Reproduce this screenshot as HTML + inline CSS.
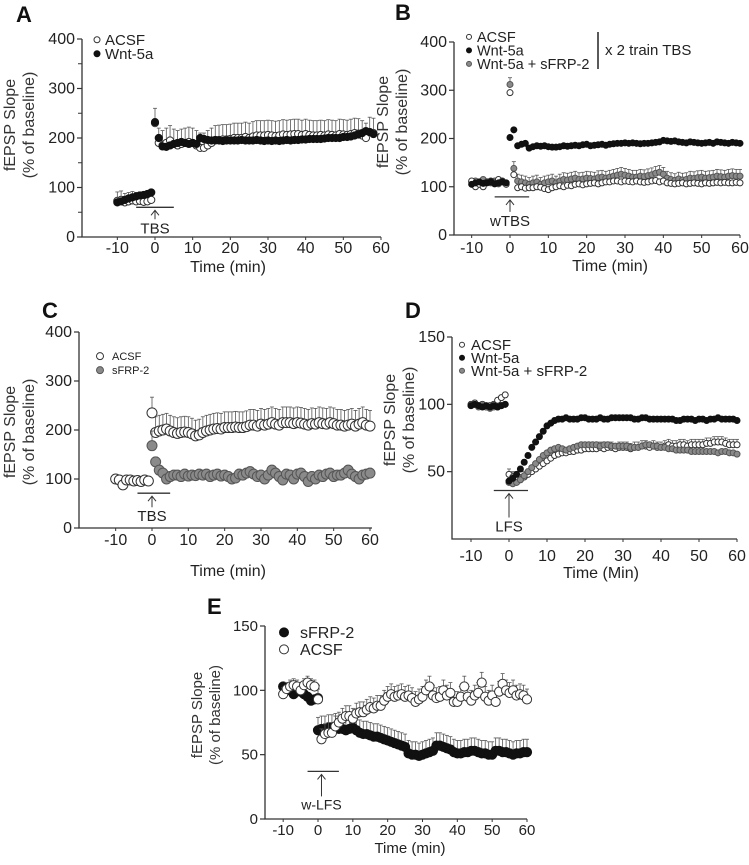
<!DOCTYPE html>
<html><head><meta charset="utf-8">
<style>
html,body{margin:0;padding:0;background:#fff;}
svg{display:block;font-family:"Liberation Sans",Arial,sans-serif;}
</style></head>
<body>
<svg id="fig" width="749" height="865" viewBox="0 0 749 865"></svg>
<script>
// ---------- DATA ----------
const aPreTimes=[-10,-9,-8,-7,-6,-5,-4,-3,-2,-1];
const aAcsfPre=[73,75,70,72,74,72,73,71,72,75];
const aAcsfPost=[230,190,185,190,195,188,185,188,190,192,190,185,180,180,185,190,195,196,197,197,198,200,200,200,202,200,203,205,205,205,206,205,204,205,207,206,207,208,208,206,208,206,205,205,206,205,207,206,205,208,207,206,208,210,209,205,200,212,210];
const aWntPre=[70,72,75,78,80,82,84,85,87,90];
const aWntPost=[232,200,183,182,185,188,190,192,190,188,190,188,200,198,196,195,196,195,194,195,195,195,195,196,195,195,195,196,195,194,195,194,195,194,195,196,195,196,196,197,197,198,198,198,198,199,200,200,200,200,202,202,203,205,207,210,214,212,208];

const bWntPre=[105,108,110,107,108,110,106,108,110,108];
const bWntPost=[202,218,185,188,190,180,183,185,184,185,183,182,182,183,185,184,185,186,185,187,188,185,186,187,188,186,188,189,190,190,191,190,191,190,189,190,190,191,192,193,196,195,194,195,193,192,191,193,192,191,190,191,192,190,193,192,191,190,192,191,190];
const bAcsfPre=[112,100,105,100,110,112,108,115,112,105];
const bAcsfPost=[295,125,98,100,97,98,98,100,99,96,94,98,100,102,100,103,102,105,106,104,106,107,108,106,108,110,110,112,112,110,112,111,110,112,110,109,110,112,113,110,112,108,107,106,107,108,106,107,108,107,106,108,107,108,109,108,109,108,108,109,108];
const bGrayPre=[110,112,108,115,110,108,112,106,110,108];
const bGrayPost=[312,138,112,110,108,105,108,110,105,108,110,112,108,112,115,114,116,118,115,116,118,117,116,119,120,118,120,122,124,126,124,122,120,120,122,121,123,125,128,130,126,118,115,113,116,114,115,118,117,119,120,118,119,120,122,121,120,122,123,122,122];

const cAcsfPre=[100,98,88,98,98,96,97,95,98,96];
const cAcsfPost=[235,195,198,200,202,198,195,193,195,196,195,192,188,190,195,198,200,202,203,202,205,205,205,206,205,205,207,210,210,208,212,210,212,215,212,210,215,215,215,213,215,214,212,210,213,212,215,213,212,215,213,210,210,208,210,212,208,212,215,210,208];
const cSfrpPost=[168,135,118,112,100,105,108,108,105,110,106,108,107,110,108,110,105,108,110,106,108,105,100,102,110,108,112,115,110,105,108,100,108,118,112,105,98,110,108,100,110,112,105,95,105,100,108,105,110,112,105,108,108,112,118,110,105,100,108,110,112];

const dGrayPre=[99,100,98,99,98,97,98,98,99,100];
const dAcsfPre=[100,101,99,100,98,99,100,103,105,107];
const dWntPre=[99,100,99,98,99,98,99,98,99,100];
const dWntPost=[43,45,48,52,57,62,68,72,76,80,84,86,88,89,89,90,89,89,89,90,90,89,89,89,90,89,89,90,90,90,90,90,90,89,89,90,90,89,89,89,89,89,89,89,88,88,89,89,89,88,89,89,88,89,89,90,89,89,89,89,88];
const dAcsfPost=[48,46,45,44,46,48,50,52,54,56,58,60,62,63,64,64,65,65,66,66,67,67,67,67,68,67,68,68,67,68,68,68,67,68,68,69,69,68,69,68,68,69,70,69,69,70,70,69,70,70,70,70,71,71,72,72,72,71,70,70,70];
const dGrayPost=[42,41,42,44,47,50,53,56,59,62,64,66,67,68,67,66,67,68,69,70,70,70,70,70,69,70,70,69,69,69,69,69,68,68,68,69,70,70,69,69,68,68,67,67,66,66,66,66,65,65,65,65,65,65,65,64,65,65,64,64,63];

const ePreTimes=[-10,-9,-8,-7,-6,-5,-4,-3,-2,-1,0];
const eSfrpPre=[103,101,100,97,100,99,97,95,92,93,94];
const eAcsfPre=[97,101,103,104,103,100,104,106,104,103,93];
const eSfrpPost=[69,70,70,71,71,72,70,70,69,70,71,69,67,66,66,65,64,64,63,62,61,60,59,58,57,56,51,50,50,49,50,51,52,53,57,57,56,55,54,52,51,51,52,52,53,53,52,51,51,50,50,53,53,52,52,51,50,51,51,52,52];
const eAcsfPost=[62,66,67,67,72,75,78,80,80,78,82,83,83,85,87,86,88,88,92,95,97,95,96,97,95,96,94,91,93,95,100,103,96,94,95,100,96,98,91,91,95,103,95,92,96,98,106,95,92,96,91,99,105,100,98,100,96,97,96,93];

// ---------- DRAWING ----------
const NS="http://www.w3.org/2000/svg";
const svg=document.getElementById('fig');
function mk(tag,attrs,parent){const e=document.createElementNS(NS,tag);for(const k in attrs)e.setAttribute(k,attrs[k]);(parent||svg).appendChild(e);return e;}
function txt(s,x,y,size,anchor,parent,extra){const t=mk('text',Object.assign({x:x,y:y,'font-size':size,'text-anchor':anchor||'start',fill:'#222'},extra||{}),parent);t.textContent=s;return t;}
function range(a,b){const r=[];for(let i=a;i<=b;i++)r.push(i);return r;}

function panel(c){
  const g=mk('g',{});
  
  
  const X=v=>c.x0+(v-c.xmin)/(c.xmax-c.xmin)*(c.x1-c.x0);
  const Y=v=>c.y0-(v-c.ymin)/(c.ymax-c.ymin)*(c.y0-c.y1);
  const ax=mk('path',{d:`M${c.ax} ${c.y1} V${c.y0} H${c.axEnd}`,stroke:'#333','stroke-width':1.3,fill:'none'},g);
  
  
  c.yticks.forEach(v=>{
    mk('line',{x1:c.ax-5,x2:c.ax,y1:Y(v),y2:Y(v),stroke:'#333','stroke-width':1.2},g);
    const t=txt(String(v),c.ax-7,Y(v)+5,c.tf,'end',g);
    
    
  });
  (c.yminor||[]).forEach(v=>mk('line',{x1:c.ax-4,x2:c.ax,y1:Y(v),y2:Y(v),stroke:'#333','stroke-width':1},g));
  c.xticks.forEach(v=>{
    mk('line',{x1:X(v),x2:X(v),y1:c.y0,y2:c.y0+3,stroke:'#333','stroke-width':1},g);
    const t=txt(String(v),X(v),c.y0+c.xto,c.tf,'middle',g);
    
    
  });
  const xt=txt(c.xlabel,c.xlx,c.xly,c.tf,'middle',g);
  
  
  const yt=mk('text',{transform:`translate(${c.ylx},${c.yly}) rotate(-90)`,'font-size':c.tf,'text-anchor':'middle',fill:'#333'},g);
  
  
  const t1=mk('tspan',{x:0,dy:0},yt);t1.textContent='fEPSP Slope';
  const t2=mk('tspan',{x:0,dy:c.tf+3},yt);t2.textContent='(% of baseline)';
  const lt=txt(c.letter,c.lx,c.ly,22,'start',g,{'font-weight':'bold',fill:'#111'});
  
  
  const s=c.stim;
  mk('line',{x1:X(s.from),x2:X(s.to),y1:Y(s.y),y2:Y(s.y),stroke:'#333','stroke-width':1.3},g);
  mk('line',{x1:X(s.at),x2:X(s.at),y1:Y(s.y)+3,y2:Y(s.y)+s.len,stroke:'#333','stroke-width':1},g);
  mk('path',{d:`M${X(s.at)-4} ${Y(s.y)+8} L${X(s.at)} ${Y(s.y)+3} L${X(s.at)+4} ${Y(s.y)+8}`,stroke:'#333','stroke-width':1,fill:'none'},g);
  const st=txt(s.label,X(s.at),Y(s.y)+s.len+c.tf-2,c.tf-1,'middle',g);
  
  
  c.series.forEach(se=>{
    const sg=mk('g',{},g);
    
    
    se.vals.forEach((v,i)=>{
      const t=se.times[i];
      let e=t<0?se.preErr:se.err;
      if(t>=0&&i===se.bigIdx)e*=se.bigMul;
      if(e){
        mk('line',{x1:X(t),x2:X(t),y1:Y(v),y2:Y(v+e),stroke:'#555','stroke-width':0.8},sg);
        mk('line',{x1:X(t)-2,x2:X(t)+2,y1:Y(v+e),y2:Y(v+e),stroke:'#555','stroke-width':0.8},sg);
      }
    });
    se.vals.forEach((v,i)=>{
      const m=mk('circle',{cx:X(se.times[i]),cy:Y(v),r:c.r,fill:se.fill,stroke:se.stroke,'stroke-width':1},sg);
      
      
    });
  });
  c.legend.forEach((L,i)=>{
    const lg=mk('g',{},g);
    
    
    const y=c.legY+i*c.legDy;
    mk('circle',{cx:c.legX,cy:y-c.lf*0.35,r:c.legR,fill:L.fill,stroke:L.stroke,'stroke-width':1},lg);
    txt(L.label,c.legX+c.legGap,y,c.lf,'start',lg);
  });
}
const OPEN={fill:'#fff',stroke:'#333'}, FILL={fill:'#111',stroke:'#111'}, GRAY={fill:'#8a8a8a',stroke:'#555'};
function S(name,times,vals,st,err,preErr,bigIdx,bigMul){return Object.assign({name,times,vals,err,preErr,bigIdx:bigIdx==null?-1:bigIdx,bigMul:bigMul||1},st);}

const aPost=range(0,58), p60=range(0,60);
panel({name:'panel-a',letter:'A',lx:16,ly:22,x0:155,x1:381,xmin:0,xmax:60,y0:237,y1:39,ymin:0,ymax:400,ax:82,axEnd:381,
  yticks:[0,100,200,300,400],yminor:[50,150,250,350],xticks:[-10,0,10,20,30,40,50,60],tf:16,xto:16,xlabel:'Time (min)',xlx:228,xly:272,ylx:15,yly:125,r:3.6,
  stim:{from:-5,to:5,y:60,at:0,len:12,label:'TBS'},
  series:[S('series-acsf',aPreTimes.concat(aPost),aAcsfPre.concat(aAcsfPost),OPEN,30,18,0,2),
          S('series-wnt5a',aPreTimes.concat(aPost),aWntPre.concat(aWntPost),FILL,0,0)],
  legX:97,legY:45,legDy:14,legR:3,legGap:8,lf:15,legend:[{label:'ACSF',...OPEN},{label:'Wnt-5a',...FILL}]});
panel({name:'panel-b',letter:'B',lx:395,ly:20,x0:510,x1:740,xmin:0,xmax:60,y0:235,y1:42,ymin:0,ymax:400,ax:454,axEnd:740,
  yticks:[0,100,200,300,400],xticks:[-10,0,10,20,30,40,50,60],tf:16,xto:18,xlabel:'Time (min)',xlx:610,xly:271,ylx:388,yly:122,r:3,
  stim:{from:-4,to:5,y:79,at:0,len:15,label:'wTBS'},
  series:[S('series-gray-wnt5a-sfrp2',aPreTimes.concat(p60),bGrayPre.concat(bGrayPost),GRAY,14,0,0,2),
          S('series-acsf',aPreTimes.concat(p60),bAcsfPre.concat(bAcsfPost),OPEN,0,0),
          S('series-wnt5a',aPreTimes.concat(p60),bWntPre.concat(bWntPost),FILL,0,0)],
  legX:469,legY:42,legDy:13.5,legR:2.5,legGap:8,lf:14.5,legend:[{label:'ACSF',...OPEN},{label:'Wnt-5a',...FILL},{label:'Wnt-5a + sFRP-2',...GRAY}]});
mk('line',{x1:598,x2:598,y1:32,y2:69,stroke:'#222','stroke-width':1.5});
{const t=txt('x 2 train TBS',605,55,15,'start');}
panel({name:'panel-c',letter:'C',lx:42,ly:318,x0:152,x1:370,xmin:0,xmax:60,y0:528,y1:332,ymin:0,ymax:400,ax:79,axEnd:372,
  yticks:[0,100,200,300,400],xticks:[-10,0,10,20,30,40,50,60],tf:16,xto:17,xlabel:'Time (min)',xlx:228,xly:576,ylx:15,yly:432,r:5,
  stim:{from:-4,to:5,y:71,at:0,len:14,label:'TBS'},
  series:[S('series-acsf',aPreTimes.concat(p60),cAcsfPre.concat(cAcsfPost),OPEN,32,0,0,2),
          S('series-sfrp2',p60,cSfrpPost,GRAY,10,0,0,3)],
  legX:100,legY:360,legDy:14,legR:3.5,legGap:12,lf:11,legend:[{label:'ACSF',...OPEN},{label:'sFRP-2',...GRAY}]});
panel({name:'panel-d',letter:'D',lx:405,ly:318,x0:509,x1:737,xmin:0,xmax:60,y0:539,y1:337,ymin:0,ymax:150,ax:452,axEnd:737,
  yticks:[50,100,150],xticks:[-10,0,10,20,30,40,50,60],tf:16,xto:22,xlabel:'Time (Min)',xlx:601,xly:578,ylx:395,yly:420,r:3,
  stim:{from:-4,to:5,y:36,at:0,len:27,label:'LFS'},
  series:[S('series-acsf',aPreTimes.concat(p60),dAcsfPre.concat(dAcsfPost),OPEN,4,2),
          S('series-gray-wnt5a-sfrp2',aPreTimes.concat(p60),dGrayPre.concat(dGrayPost),GRAY,0,0),
          S('series-wnt5a',aPreTimes.concat(p60),dWntPre.concat(dWntPost),FILL,2,0)],
  legX:462,legY:350,legDy:13,legR:2.5,legGap:9,lf:15,legend:[{label:'ACSF',...OPEN},{label:'Wnt-5a',...FILL},{label:'Wnt-5a + sFRP-2',...GRAY}]});
panel({name:'panel-e',letter:'E',lx:207,ly:614,x0:318,x1:527,xmin:0,xmax:60,y0:819,y1:626,ymin:0,ymax:150,ax:265,axEnd:527,
  yticks:[0,50,100,150],xticks:[-10,0,10,20,30,40,50,60],tf:15,xto:16,xlabel:'Time (min)',xlx:410,xly:853,ylx:202,yly:715,r:4.6,
  stim:{from:-3,to:6,y:37,at:1,len:25,label:'w-LFS'},
  series:[S('series-sfrp2',ePreTimes.concat(p60),eSfrpPre.concat(eSfrpPost),FILL,10,2),
          S('series-acsf',ePreTimes.concat(range(1,60)),eAcsfPre.concat(eAcsfPost),OPEN,8,5)],
  legX:284,legY:638,legDy:17,legR:4.5,legGap:16,lf:16,legend:[{label:'sFRP-2',...FILL},{label:'ACSF',...OPEN}]});
</script>
</body></html>
